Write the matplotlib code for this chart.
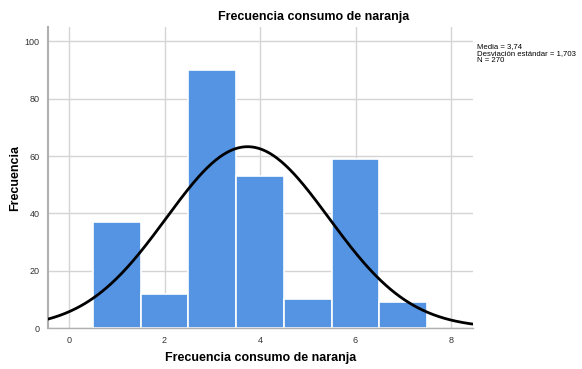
import numpy as np
import matplotlib
matplotlib.use('Agg')
import matplotlib.pyplot as plt

plt.rcParams['font.family'] = ['Liberation Sans', 'DejaVu Sans']

# --- datos del histograma ---
valores = [1, 2, 3, 4, 5, 6, 7]
frecuencias = [37, 12, 90, 53, 10, 59, 9]
media = 3.74
desv = 1.703
n = 270

fig = plt.figure(figsize=(5.82, 3.69), dpi=100)
ax = fig.add_axes([0.0825, 0.1111, 0.7302, 0.8157])

ax.bar(valores, frecuencias, width=1.0, color='#5594E3', edgecolor='white', linewidth=1.2, zorder=2)

# curva normal
xs = np.linspace(-0.44, 8.46, 300)
ys = n * 1.0 / (desv * np.sqrt(2 * np.pi)) * np.exp(-0.5 * ((xs - media) / desv) ** 2)
ax.plot(xs, ys, color='black', linewidth=2.0, zorder=3)

ax.set_xlim(-0.44, 8.46)
ax.set_ylim(0, 105)
ax.set_xticks([0, 2, 4, 6, 8])
ax.set_yticks([0, 20, 40, 60, 80, 100])
ax.grid(True, color='#d4d4d4', linewidth=1.0, zorder=0)
ax.set_axisbelow(True)
ax.tick_params(length=0, labelsize=6.5, colors='#333333', pad=6)

for s in ['top', 'right']:
    ax.spines[s].set_visible(False)
ax.spines['left'].set_color('#b0b0b0')
ax.spines['left'].set_linewidth(1.5)
ax.spines['bottom'].set_color('#b0b0b0')
ax.spines['bottom'].set_linewidth(1.0)

fig.text(260.5 / 582, 1 - 358 / 369, 'Frecuencia consumo de naranja', fontsize=9,
         fontweight='bold', ha='center', va='center')
fig.text(15 / 582, 1 - 178 / 369, 'Frecuencia', fontsize=9, fontweight='bold',
         ha='center', va='center', rotation=90)
fig.text(314 / 582, 1 - 17 / 369, 'Frecuencia consumo de naranja', fontsize=9,
         fontweight='bold', ha='center', va='center')

fig.text(477 / 582, 1 - 43 / 369,
         'Media = 3,74\nDesviación estándar = 1,703\nN = 270',
         fontsize=5.6, ha='left', va='top', linespacing=1.05)

fig.savefig('out.png', dpi=100)
